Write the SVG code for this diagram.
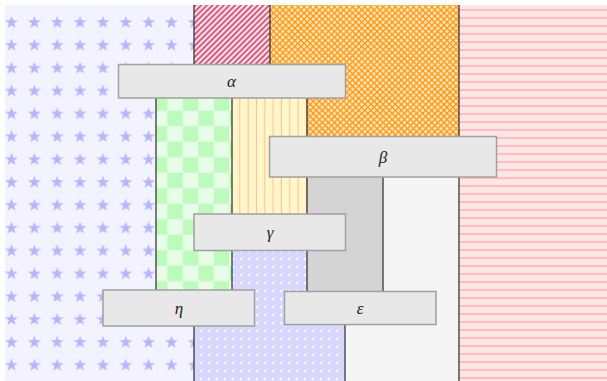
<svg xmlns="http://www.w3.org/2000/svg" width="607" height="381" viewBox="0 0 607 381">
<style>
.sep{stroke:#2a2a2a;stroke-width:1.2;fill:none}
.box{fill:#e8e8e8;stroke:#a0a0a0;stroke-width:1.5}
.lbl{font-family:"Liberation Serif","DejaVu Serif",serif;font-style:italic;font-size:17px;fill:#222;text-anchor:middle;dominant-baseline:central}
</style>
<defs>
<pattern id="pStars" patternUnits="userSpaceOnUse" x="0.075" y="11.075" width="22.85" height="22.85">
<rect width="22.85" height="22.85" fill="#f3f3ff"/>
<path transform="translate(11.425 11.425) scale(1.05)" d="M0,-6.5 L1.53,-2.1 L6.18,-2.01 L2.47,0.8 L3.82,5.26 L0,2.6 L-3.82,5.26 L-2.47,0.8 L-6.18,-2.01 L-1.53,-2.1 Z" fill="#b6b6ff"/>
</pattern>
<pattern id="pHatch" patternUnits="userSpaceOnUse" width="4" height="4" patternTransform="rotate(-45)">
<rect width="4" height="4" fill="#fce6eb"/>
<rect y="1.35" width="4" height="1.3" fill="#c8104a"/>
</pattern>
<pattern id="pCross" patternUnits="userSpaceOnUse" width="4.3" height="4.3" patternTransform="rotate(45)">
<rect width="4.3" height="4.3" fill="#ffe4c6"/>
<rect y="0" width="4.3" height="1.25" fill="#ff9600"/>
<rect x="0" width="1.25" height="4.3" fill="#ff9600"/>
</pattern>
<pattern id="pCheck" patternUnits="userSpaceOnUse" x="167.3" y="110.7" width="31" height="31">
<rect width="31" height="31" fill="#e8fde8"/>
<rect width="15.5" height="15.5" fill="#bcfbbc"/>
<rect x="15.5" y="15.5" width="15.5" height="15.5" fill="#bcfbbc"/>
</pattern>
<pattern id="pVert" patternUnits="userSpaceOnUse" x="232" y="0" width="8.33" height="10">
<rect width="8.33" height="10" fill="#fff7c8"/>
<rect x="7.3" width="2" height="10" fill="#ffbca6"/>
</pattern>
<pattern id="pDots" patternUnits="userSpaceOnUse" x="0" y="0" width="8" height="8">
<rect width="8" height="8" fill="#d8d8ff"/>
<circle cx="1" cy="3" r="1.2" fill="#ffffff"/>
</pattern>
<pattern id="pHoriz" patternUnits="userSpaceOnUse" x="0" y="0" width="10" height="8">
<rect width="10" height="8" fill="#ffe6e6"/>
<rect y="1.25" width="10" height="1.5" fill="#ffb0b0"/>
</pattern>
</defs>
<g id="regions">
<rect id="r-stars" x="5" y="5" width="189" height="376" fill="url(#pStars)"/>
<rect id="r-hatch" x="194" y="5" width="76" height="75" fill="url(#pHatch)"/>
<polygon id="r-cross" points="270,5 459,5 459,155 307,155 307,80 270,80" fill="url(#pCross)"/>
<rect id="r-horiz" x="459" y="5" width="148" height="376" fill="url(#pHoriz)"/>
<rect id="r-check" x="156" y="80" width="76" height="225" fill="url(#pCheck)"/>
<rect id="r-vert" x="232" y="80" width="75" height="152" fill="url(#pVert)"/>
<rect id="r-gray" x="307" y="155" width="76" height="150" fill="#d4d4d4"/>
<polygon id="r-light" points="383,155 459,155 459,381 345,381 345,305 383,305" fill="#f5f5f5"/>
<polygon id="r-dots" points="232,232 307,232 307,305 345,305 345,381 194,381 194,305 232,305" fill="url(#pDots)"/>
</g>
<g id="connectors">
<path class="sep" d="M156,80V305 M194,5V80 M194,305V381 M232,80V305 M270,5V80 M307,80V305 M345,305V381 M383,155V305 M459,5V381"/>
</g>
<g id="node-alpha"><rect class="box" x="118.5" y="64.5" width="227" height="33.5"/><text class="lbl" x="231.5" y="81">α</text></g>
<g id="node-beta"><rect class="box" x="269.5" y="136.5" width="227" height="40.5"/><text class="lbl" x="383" y="157">β</text></g>
<g id="node-gamma"><rect class="box" x="194" y="214" width="151.5" height="36.5"/><text class="lbl" x="270" y="232">γ</text></g>
<g id="node-eta"><rect class="box" x="103" y="290" width="151.5" height="36"/><text class="lbl" x="179" y="308">η</text></g>
<g id="node-epsilon"><rect class="box" x="284.5" y="291.5" width="151.5" height="33"/><text class="lbl" x="360" y="308">ε</text></g>
</svg>
